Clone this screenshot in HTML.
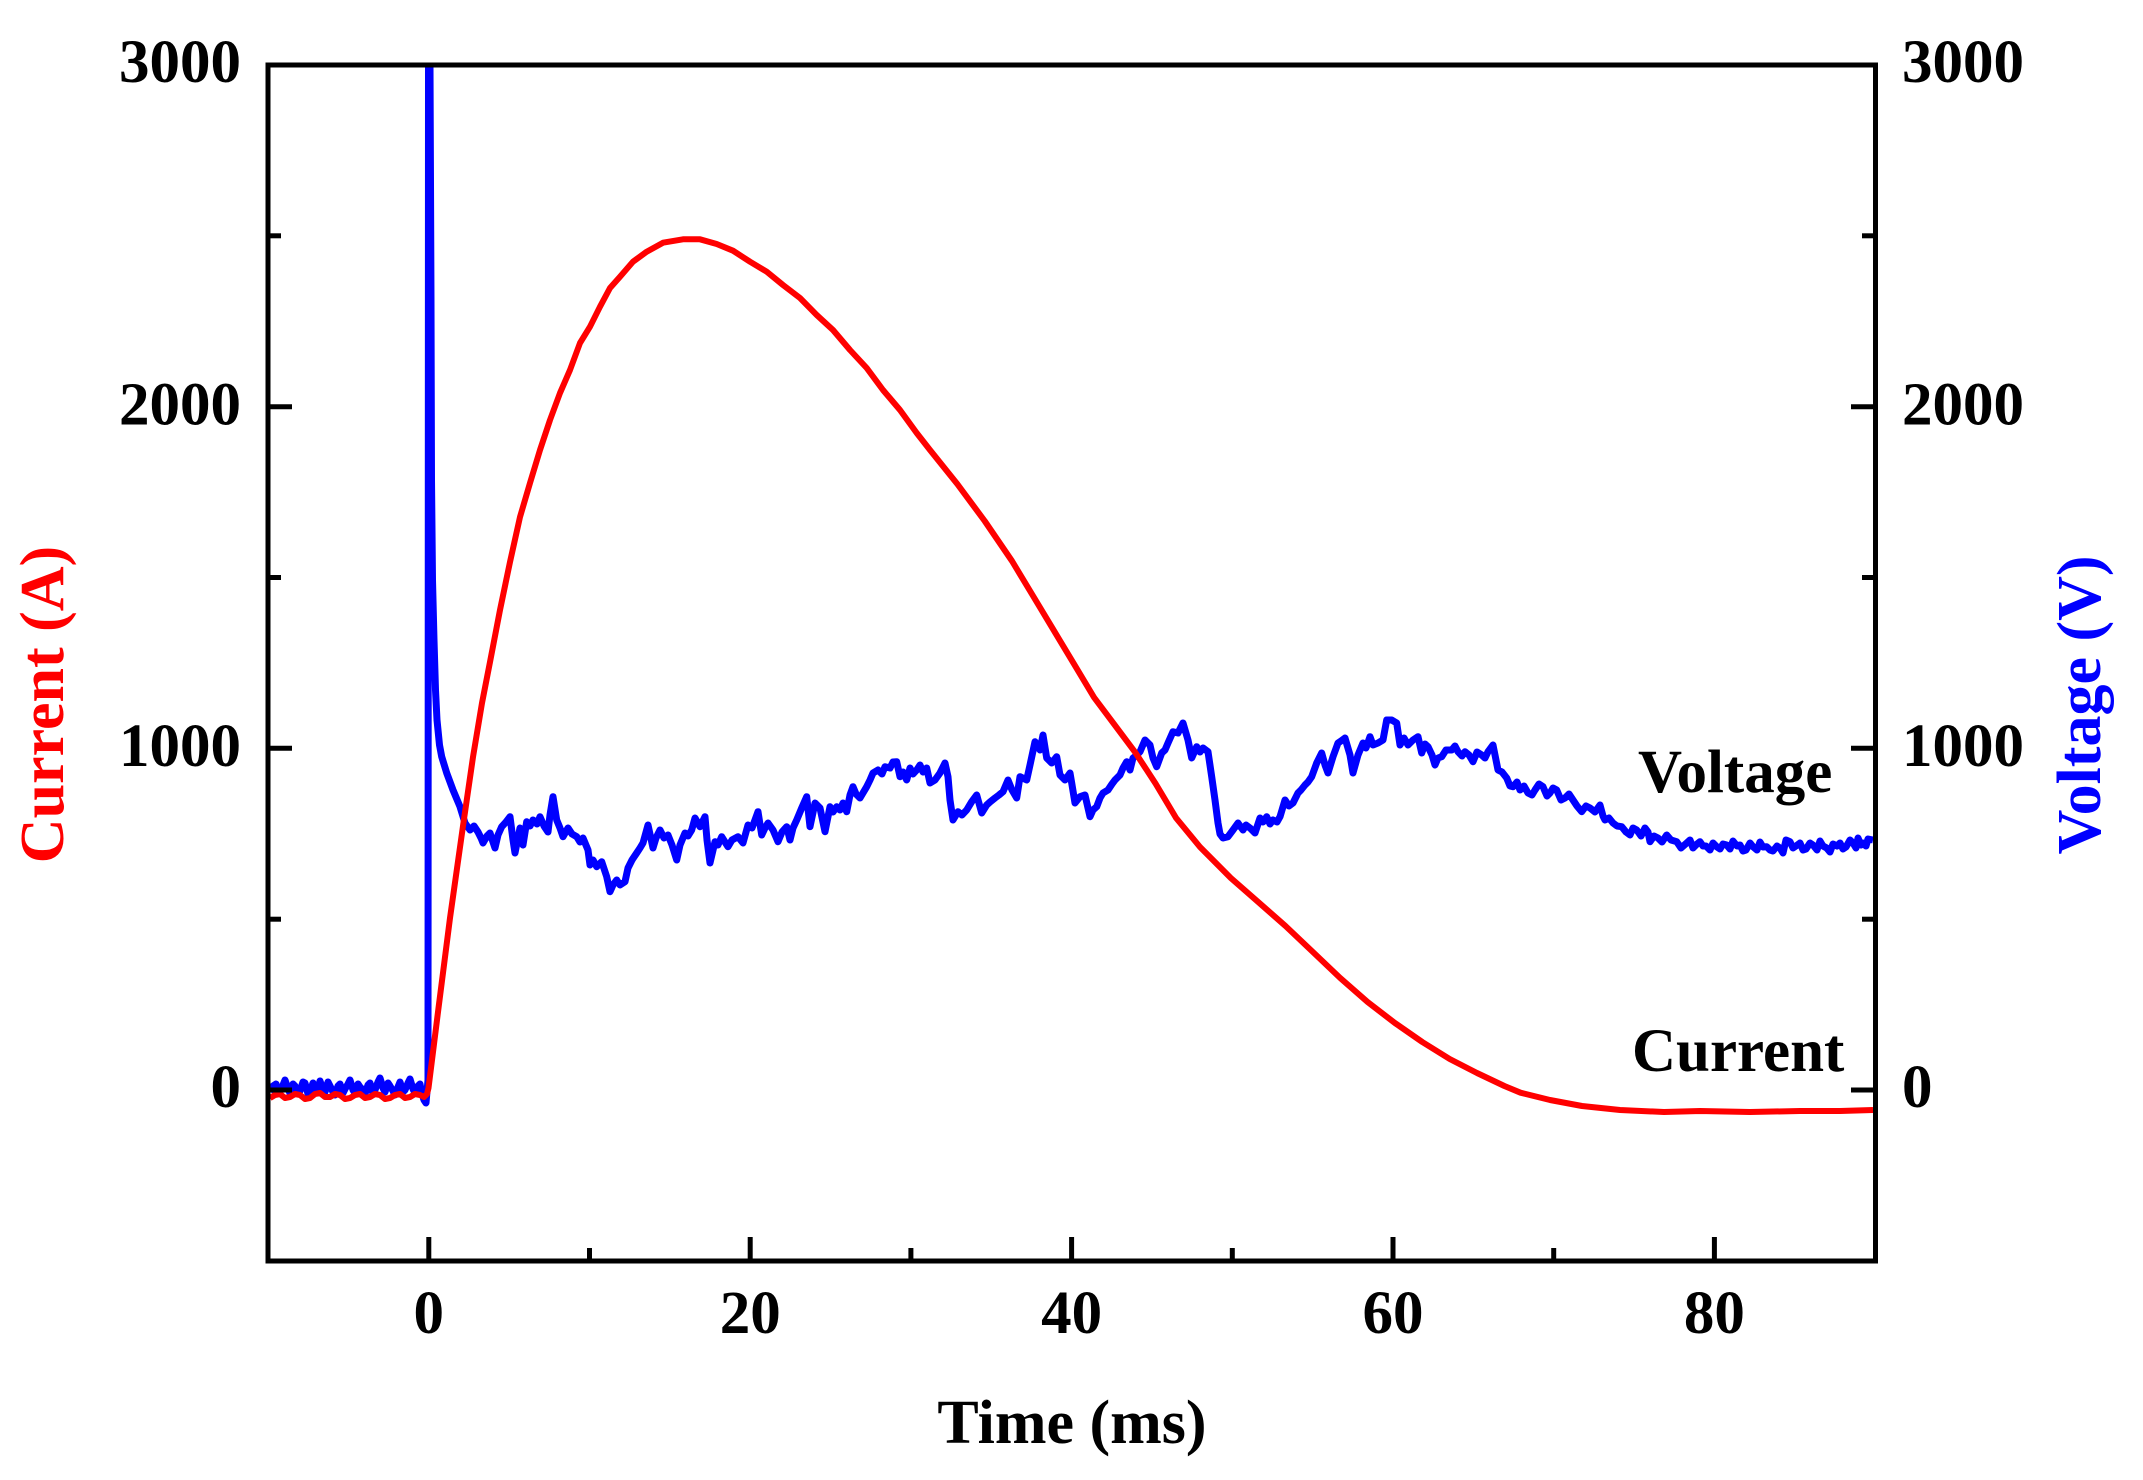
<!DOCTYPE html>
<html>
<head>
<meta charset="utf-8">
<style>
  html,body{margin:0;padding:0;background:#fff;}
  svg{display:block;}
  text{font-family:"Liberation Serif","Times New Roman",serif;font-weight:bold;}
</style>
</head>
<body>
<svg width="2143" height="1480" viewBox="0 0 2143 1480" xmlns="http://www.w3.org/2000/svg">
  <rect x="0" y="0" width="2143" height="1480" fill="#fff"/>

  <!-- Voltage (blue) -->
  <path fill="none" stroke="#0000FF" stroke-width="7" stroke-linejoin="round" d="
  M270,1092 L273,1086 276,1084 279,1093 281,1090 285,1080 288,1089 290,1093 293,1084 295,1086 298,1094 300,1091 303,1082 305,1083 308,1094 310,1092 313,1083 315,1087 318,1093 320,1081 323,1090 325,1092 328,1082 330,1086 333,1092 335,1095 338,1086 340,1084 343,1093 345,1089 348,1084 350,1080 353,1090 355,1093 358,1084 360,1087 363,1090 365,1094 368,1085 370,1083 373,1094 375,1090 378,1082 380,1078 383,1088 385,1092 388,1083 390,1086 393,1091 395,1095 398,1087 400,1082 403,1092 405,1090 408,1083 410,1079 413,1089 415,1093 418,1086 420,1084 422,1094 424,1100 426,1103 428,1080 428.5,66 430,66 431,300 431.5,480 432.5,580 434,640 435.5,690 437,720 439.5,745 441.7,756.7 446.7,773 453,790 460,806.7 465,823 470,830 474,826 478,832 481,838 483,843 487,836 490,833 493,842 495,848 498,835 501.7,826.7 506,822 510,816.7 513,840 515,853 518,838 520,828 523,845 526.7,821.7 530,826 533,820 537,824 540,816.7 544,826 548,832 550,815 553,796.7 556.7,820 560,828 563,836.7 568,828 572,834 576.7,836.7 580,842 583,838 588,850 590,865 593,860 596.7,866.7 601.7,861.7 606.7,876.7 610,891.7 613,885 616.7,880 620,885 625,881.7 628,868 632,860 636.7,853 640,848 643,843 648,825 653,848 656,838 660,830 664,838 668,835 672,845 676.7,860 680,845 685,833 688,836 691.7,830 695,818 700,826.7 705,816.7 707,840 710,863 715,841.7 718,845 721.7,836.7 725,842 728,846.7 732,840 738,836.7 743,843 748,825 752,828 755,820 758,811.7 761.7,835 765,828 768,823 773,830 778,841.7 782,832 786.7,826.7 790,840 793,828 796.7,820 801.7,808 806.7,796.7 810,826.7 815,803 820,808 825,831.7 830,806.7 833,812 836.7,806.7 840,810 843,803 846.7,811.7 850,795 853,786.7 856,794 860,798 866.7,786.7 870,780 873,773 878,770 882,774 885,766.7 890,768 893,762 896.7,761.7 900,776.7 903,772 906.7,780 910,768 913,774 916.7,770 920,765 923,772 926.7,768 930,783 935,780 940,773 945,763 948,776.7 950,800 953,820 958,811.7 962,815 966.7,810 971.7,801.7 976.7,795 981.7,813 986.7,805 990,802 995,798 999,795 1003,791.7 1008,780 1012,790 1016.7,798 1020,776.7 1026.7,780 1030,765 1035,741.7 1040,750 1043,735 1046.7,758 1051.7,763 1056.7,756.7 1060,775 1065,780 1070,773 1071.7,783 1075,803 1080,796.7 1085,795 1090,816.7 1093,810 1096.7,806.7 1100,798 1103,793 1108,790 1112,784 1115,780 1120,775 1123,768 1126.7,761.7 1130,770 1133,758 1137,755 1140,751.7 1145,740 1150,745 1153,758 1156.7,766.7 1161.7,753 1165,750 1168,743 1173,731.7 1178,733 1183,723 1188,740 1191.7,758 1196.7,746.7 1200,752 1203,748 1208,751.7 1211.7,776.7 1215,800 1218,823 1220,834 1223,838 1228,836.7 1233,830 1238,823 1243,830 1246,825 1250,828 1255,833 1260,818 1263,822 1266.7,816.7 1270,824 1273,820 1277,822 1280,816.7 1285,800 1289,806 1293,803 1298,793 1301,790 1305,785 1308,782 1311.7,776.7 1316.7,763 1321.7,753 1325,765 1328,773 1333,756.7 1338,743 1341,741 1345,738 1350,755 1353,773 1358,755 1363,743 1366,748 1370,736.7 1373,745 1378,743 1383,740 1386.7,720 1391.7,720 1396.7,723 1400,745 1404,738 1408,745 1413,740 1418,736.7 1421.7,753 1425,744 1428,746.7 1432,755 1435,765 1438,758 1441.7,756.7 1446,750 1451.7,750 1455,746 1458,751.7 1462,756 1465,751.7 1469,755 1473,761.7 1477,752 1481.7,755 1485,758 1488,751.7 1493,745 1496,760 1498,770 1502,772 1506.7,778 1510,786 1513,786.7 1517,782 1520,790 1524,786 1528,793 1532,795 1535,790 1539,784 1543,786.7 1547,796 1550,793 1553,788 1556.7,790 1561,800 1565,798 1569,794 1573,800 1577,806 1581.7,811.7 1586,806 1590,808 1595,812 1600,805 1603,816 1605,820 1609,818 1613,823 1617,826 1621.7,826.7 1626,832 1630,835 1633,828 1636.7,830 1641,836 1645,828 1648,832 1650,841.7 1654,836 1658,838 1662,842 1666.7,835 1671,840 1676.7,841.7 1681,848 1686.7,843 1690,840 1693,848 1697,844 1700,841.7 1703,846 1706,846 1710,850 1713,843 1717,847 1720,849 1723,844 1726.7,845 1730,849 1733,841 1737,846 1740,845 1743,851 1746,850 1750,843 1753,846.7 1757,850 1760,842 1763,847 1766.7,846.7 1770,850 1773,851 1777,846 1780,848 1783,853 1786,840 1790,841.7 1793,848 1796,846 1800,843 1803,850 1806,849 1810,843 1813,845 1817,850 1820,841 1823,846 1826.7,848 1830,852 1833,844 1837,846 1840,843 1843,849 1846,847 1850,840 1853,843 1856,848 1858,838 1861,845 1863,843 1866,846 1868,839 1873,840"/>

  <!-- Current (red) -->
  <path fill="none" stroke="#FF0000" stroke-width="6" stroke-linejoin="round" d="
  M270,1098 L275,1095 280,1094 285,1098 290,1097 295,1094 300,1095 305,1099 310,1098 315,1094 320,1093 325,1097 330,1097 335,1094 340,1095 345,1099 350,1098 355,1095 360,1094 365,1098 370,1097 375,1094 380,1095 385,1099 390,1098 395,1095 400,1094 405,1098 410,1097 415,1094 420,1095 424,1097 427,1094 428.5,1088 438,1012 450,918 463,826 473,757 482,703 490,662 500,610 510,562 520,517 530,483 540,450 550,420 560,393 570,370 580,343 590,326.7 600,306.7 610,288 620,276.7 633,261.7 646.7,251.7 663,242.7 683,239.3 700,239.3 716.7,244 733,250.7 750,261.7 766.7,271.7 783,285 800,298 816.7,315 833,330 850,350 866.7,368 883,390 900,410 916.7,433 930,450 957.3,484 984.7,521 1012,561 1032.5,595 1053,629.1 1073.6,663.3 1094.1,697.5 1114.6,724.8 1135.1,752.2 1155.6,783.6 1176.1,818 1200,847 1230.8,878 1258.2,902 1285.5,926 1312.9,952 1340.2,978 1367.6,1002 1394.9,1023 1422.3,1042 1449.7,1059 1477,1073 1504.4,1086 1520.5,1092.7 1550,1100 1582,1106 1620,1110 1664,1112 1700,1111 1750,1112 1800,1111 1840,1111 1873,1110"/>

  <!-- Axes frame -->
  <rect x="268" y="65" width="1607.5" height="1196" fill="none" stroke="#000" stroke-width="5"/>

  <!-- Ticks -->
  <g stroke="#000" stroke-width="5">
    <line x1="268" y1="1090" x2="292" y2="1090"/>
    <line x1="268" y1="748.3" x2="292" y2="748.3"/>
    <line x1="268" y1="406.7" x2="292" y2="406.7"/>
    <line x1="268" y1="919.2" x2="281" y2="919.2"/>
    <line x1="268" y1="577.5" x2="281" y2="577.5"/>
    <line x1="268" y1="235.8" x2="281" y2="235.8"/>
    <line x1="1875.5" y1="1090" x2="1851" y2="1090"/>
    <line x1="1875.5" y1="748.3" x2="1851" y2="748.3"/>
    <line x1="1875.5" y1="406.7" x2="1851" y2="406.7"/>
    <line x1="1875.5" y1="919.2" x2="1862" y2="919.2"/>
    <line x1="1875.5" y1="577.5" x2="1862" y2="577.5"/>
    <line x1="1875.5" y1="235.8" x2="1862" y2="235.8"/>
    <line x1="428.8" y1="1261" x2="428.8" y2="1237"/>
    <line x1="750.2" y1="1261" x2="750.2" y2="1237"/>
    <line x1="1071.6" y1="1261" x2="1071.6" y2="1237"/>
    <line x1="1393" y1="1261" x2="1393" y2="1237"/>
    <line x1="1714.4" y1="1261" x2="1714.4" y2="1237"/>
    <line x1="589.5" y1="1261" x2="589.5" y2="1248"/>
    <line x1="910.9" y1="1261" x2="910.9" y2="1248"/>
    <line x1="1232.3" y1="1261" x2="1232.3" y2="1248"/>
    <line x1="1553.7" y1="1261" x2="1553.7" y2="1248"/>
  </g>

  <!-- Left tick labels -->
  <g font-size="61" fill="#000" text-anchor="end">
    <text x="241" y="82">3000</text>
    <text x="241" y="424.5">2000</text>
    <text x="241" y="766">1000</text>
    <text x="241" y="1107">0</text>
  </g>
  <!-- Right tick labels -->
  <g font-size="61" fill="#000" text-anchor="start">
    <text x="1902" y="82">3000</text>
    <text x="1902" y="424.5">2000</text>
    <text x="1902" y="766">1000</text>
    <text x="1902" y="1107">0</text>
  </g>
  <!-- Bottom tick labels -->
  <g font-size="61" fill="#000" text-anchor="middle">
    <text x="428.8" y="1333">0</text>
    <text x="750.2" y="1333">20</text>
    <text x="1071.6" y="1333">40</text>
    <text x="1393" y="1333">60</text>
    <text x="1714.4" y="1333">80</text>
  </g>

  <!-- Axis titles -->
  <text x="1072" y="1443" font-size="62" fill="#000" text-anchor="middle">Time (ms)</text>
  <text transform="translate(63,704.5) rotate(-90)" font-size="62" fill="#FF0000" text-anchor="middle">Current (A)</text>
  <text transform="translate(2100,705) rotate(-90)" font-size="62" fill="#0000FF" text-anchor="middle">Voltage (V)</text>

  <!-- Series labels -->
  <text x="1638" y="792" font-size="61" fill="#000">Voltage</text>
  <text x="1632" y="1071" font-size="61" fill="#000">Current</text>
</svg>
</body>
</html>
